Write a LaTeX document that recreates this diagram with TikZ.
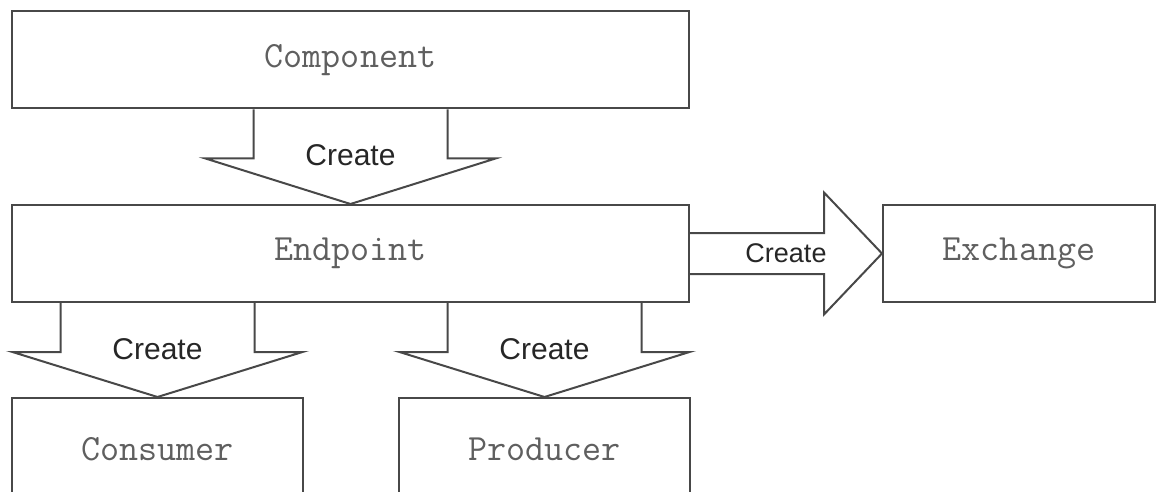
\documentclass[tikz,border=0pt]{standalone}
\usepackage{fontspec}
\setmainfont{Liberation Sans}
\usepackage{xcolor}
\usetikzlibrary{
	positioning,
	calc
}
\definecolor{linegray}{RGB}{72,72,72}
\definecolor{textgray}{RGB}{95,95,95}

\tikzset{
	box/.style={draw=linegray, line width=2pt, minimum height=97pt,
		inner sep=0pt, font=\fontsize{37}{40}\selectfont\ttfamily, text=textgray},
	blockarrow/.style={draw=linegray, line width=2pt, line join=miter},
	createlabel/.style={font=\fontsize{30}{34}\selectfont, text=black!85, inner sep=0pt}
}

\begin{document}
\begin{tikzpicture}[x=1pt, y=1pt]
		
		\useasboundingbox (0,0) rectangle (1168,491);
		\clip (0,0) rectangle (1168,491);
		
		% boxes
		\node[box, minimum width=677pt] (comp) at (350.5,431) {Component};
		\node[box, minimum width=677pt] (endp) at (350.5,237.5) {Endpoint};
		\node[box, minimum width=272pt] (exch) at (1019,237.5) {Exchange};
		\node[box, minimum width=291pt, minimum height=102pt] (cons) at (157.5,42) {Consumer};
		\node[box, minimum width=291pt, minimum height=102pt] (prod) at (544.5,42) {Producer};
		
		% downward create arrows
		\foreach \src/\dst in {comp/endp, endp/cons, endp/prod}{
			\coordinate (base) at (\dst.north |- \src.south);
			\draw[blockarrow]
			($(base)+(-97,0)$) -- ++(0,-49) -- ++(-48,0)
			-- (\dst.north)
			-- ($(base)+(145,-49)$) -- ++(-48,0) -- ++(0,49);
			\node[createlabel] at ($(base)+(0,-46)$) {Create};
		}
		
		% create arrow to the exchange
		\coordinate (hbase) at (endp.east |- exch.west);
		\draw[blockarrow]
		($(hbase)+(0,20.5)$) -- ++(134,0) -- ++(0,40.5)
		-- (exch.west)
		-- ($(hbase)+(134,-61)$) -- ++(0,40.5) -- ++(-134,0);
		\node[createlabel, font=\fontsize{27}{30}\selectfont] at ($(hbase)+(96,0)$) {Create};
		
	\end{tikzpicture}
\end{document}
